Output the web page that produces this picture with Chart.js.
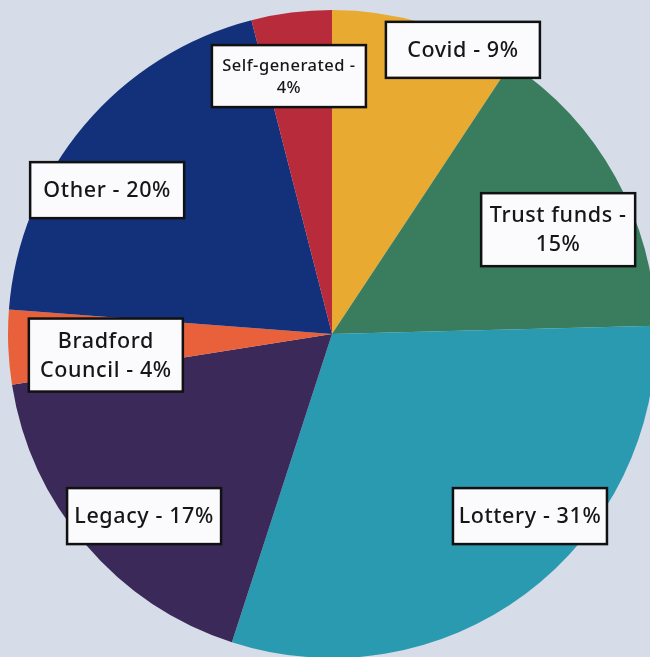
<!DOCTYPE html>
<html>
<head>
<meta charset="utf-8">
<script src="https://cdn.jsdelivr.net/npm/chart.js@4.4.1/dist/chart.umd.min.js"></script>
<style>
  html,body{margin:0;padding:0;width:650px;height:657px;overflow:hidden;background:#d6dce8;}
  #wrap{position:absolute;left:8px;top:10px;width:648px;height:648px;}
</style>
</head>
<body>
<div id="wrap"><canvas id="pieChart"></canvas></div>
<script>
/* ===========================
   DATA
=========================== */

const categories = ["Covid","Trust funds","Lottery","Legacy","Bradford Council","Other","Self-generated"];

// slice sizes
const shares = [9.3,15.3,30.4,17.5,3.7,19.8,4.0];

const sliceColors = ["#e8aa30","#3a7c5e","#2a9ab1","#3b2a59","#e9613a","#13317a","#b82b3b"];

// label text, split in lines as in the picture
const labelLines = [
    ["Covid - 9%"],
    ["Trust funds -","15%"],
    ["Lottery - 31%"],
    ["Legacy - 17%"],
    ["Bradford","Council - 4%"],
    ["Other - 20%"],
    ["Self-generated -","4%"]
];

// label box centre, as fraction of the pie radius from its centre
const labelAnchor = [
    [0.404,-0.877],
    [0.698,-0.322],
    [0.611,0.562],
    [-0.580,0.562],
    [-0.698,0.065],
    [-0.694,-0.444],
    [-0.133,-0.796]
];

/* ===========================
   LABEL BOXES PLUGIN
=========================== */

const boxLabels = {
    id:"boxLabels",
    afterDatasetsDraw(chart){
        const ctx = chart.ctx;
        const arcs = chart.getDatasetMeta(0).data;
        arcs.forEach((arc,i)=>{
            const r = arc.outerRadius;
            const cx = arc.x + labelAnchor[i][0]*r;
            const cy = arc.y + labelAnchor[i][1]*r;
            const lines = labelLines[i];
            const small = i===6;
            const fs = small ? 16.5 : 21.5;
            const lh = small ? 22 : 29;
            const w = 154;
            const h = lines.length===1 ? 56 : (small ? 62 : 73);
            ctx.save();
            ctx.fillStyle = "#fbfbfd";
            ctx.fillRect(cx-w/2,cy-h/2,w,h);
            ctx.lineWidth = 2.5;
            ctx.strokeStyle = "#111111";
            ctx.strokeRect(cx-w/2,cy-h/2,w,h);
            ctx.fillStyle = "#161616";
            ctx.font = "500 "+fs+"px 'Noto Sans'";
            ctx.letterSpacing = small ? "0.5px" : "0.6px";
            ctx.textAlign = "center";
            ctx.textBaseline = "middle";
            const top = cy - (lines.length-1)*lh/2;
            lines.forEach((t,k)=>{
                ctx.fillText(t,cx,top+k*lh+1);
            });
            ctx.restore();
        });
    }
};

/* ===========================
   CHART
=========================== */

new Chart(
    document.getElementById("pieChart"),
    {
        type:"pie",
        data:{
            labels:categories,
            datasets:[{
                data:shares,
                backgroundColor:sliceColors,
                borderWidth:0
            }]
        },
        options:{
            responsive:true,
            maintainAspectRatio:false,
            animation:false,
            layout:{padding:0},
            plugins:{
                legend:{display:false},
                tooltip:{enabled:false}
            }
        },
        plugins:[boxLabels]
    }
);
</script>
</body>
</html>
